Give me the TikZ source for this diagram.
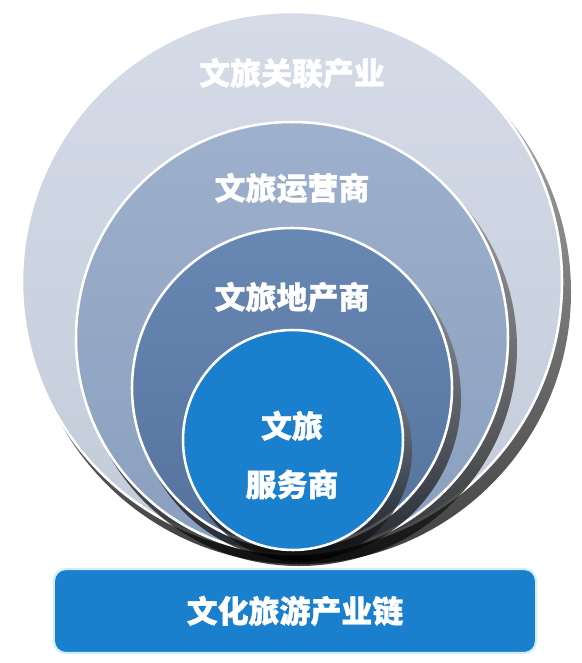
\documentclass[tikz,border=0pt]{standalone}
\usepackage{fontspec}
\newfontfamily\cjkfont{Noto Sans CJK SC}[BoldFeatures={FakeBold=1.2}]
\definecolor{ringOuterTop}{HTML}{D5DBE7}
\definecolor{ringOuterBot}{HTML}{C3CBDA}
\definecolor{ringOperTop}{HTML}{9DB0CC}
\definecolor{ringOperBot}{HTML}{8A9FBF}
\definecolor{ringEstateTop}{HTML}{6888B4}
\definecolor{ringEstateBot}{HTML}{54729C}
\definecolor{serviceBlue}{HTML}{1A80CD}
\definecolor{barEdge}{HTML}{CDEFF8}

\begin{document}
\begin{tikzpicture}[
 x=0.025cm, y=-0.025cm,
 font=\cjkfont\bfseries\fontsize{22}{26}\selectfont,
 label/.style={text=white,align=center,inner sep=0pt},
 ring/.style={draw=white,line width=1.8pt},
 shadow/.style={top color=gray!75,bottom color=black,opacity=0.75},
 bar/.style={draw=barEdge,line width=1.5pt,fill=serviceBlue,rounded corners=0.3cm,
  minimum width=12.05cm,minimum height=2.1cm}
]
\fill [white] (0,0) rectangle (581,663);
\shade [shadow] (299,292) circle (272);
\shade [ring,top color=ringOuterTop,bottom color=ringOuterBot] (292,282) circle (270);
\shade [shadow] (299,348) circle (218);
\shade [ring,top color=ringOperTop,bottom color=ringOperBot] (292,338) circle (216);
\shade [shadow] (299,398) circle (162);
\shade [ring,top color=ringEstateTop,bottom color=ringEstateBot] (292,388) circle (160);
\shade [shadow] (300,450) circle (112);
\fill [ring,fill=serviceBlue] (293,440) circle (110);
\node (related) [label] at (292,73) {文旅关联产业};
\node (operator) [label] at (292,188) {文旅运营商};
\node (estate) [label] at (292,297) {文旅地产商};
\node (service) [label] at (292,455) {文旅\\[0.55cm]服务商};
\node (chain) [bar,label] at (295,611) {文化旅游产业链};
\end{tikzpicture}
\end{document}
